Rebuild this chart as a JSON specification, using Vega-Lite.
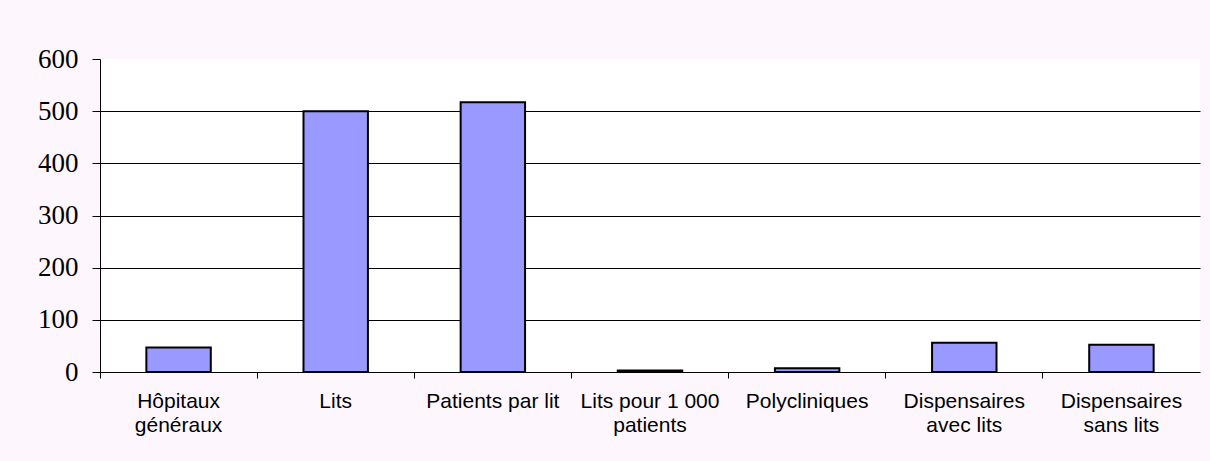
{
  "$schema": "https://vega.github.io/schema/vega-lite/v6.json",
  "width": 1100,
  "height": 313,
  "autosize": {"type": "none"},
  "padding": {"left": 100, "top": 59, "right": 10, "bottom": 89},
  "background": "#FDF7FD",
  "config": {"view": {"stroke": null, "fill": "white"}},
  "data": {
    "values": [
      {"categorie": "Hôpitaux généraux", "valeur": 47},
      {"categorie": "Lits", "valeur": 500},
      {"categorie": "Patients par lit", "valeur": 517},
      {"categorie": "Lits pour 1 000 patients", "valeur": 3},
      {"categorie": "Polycliniques", "valeur": 7},
      {"categorie": "Dispensaires avec lits", "valeur": 56},
      {"categorie": "Dispensaires sans lits", "valeur": 52}
    ]
  },
  "mark": {"type": "bar", "fill": "#9999FF", "stroke": "black", "strokeWidth": 2, "width": {"band": 0.41}},
  "encoding": {
    "x": {
      "field": "categorie",
      "type": "nominal",
      "sort": null,
      "scale": {"paddingInner": 0, "paddingOuter": 0},
      "axis": {
        "title": null,
        "labelAngle": 0,
        "bandPosition": 0,
        "domainColor": "black",
        "tickColor": "black",
        "tickSize": 6,
        "labelFont": "Liberation Sans",
        "labelFontSize": 21,
        "labelColor": "black",
        "labelPadding": 12,
        "labelLineHeight": 24,
        "labelBaseline": "top",
        "labelLimit": 300,
        "labelExpr": "{'Hôpitaux généraux':['Hôpitaux','généraux'],'Lits pour 1 000 patients':['Lits pour 1 000','patients'],'Dispensaires avec lits':['Dispensaires','avec lits'],'Dispensaires sans lits':['Dispensaires','sans lits']}[datum.value] || datum.value"
      }
    },
    "y": {
      "field": "valeur",
      "type": "quantitative",
      "scale": {"domain": [0, 600], "nice": false},
      "axis": {
        "title": null,
        "values": [0, 100, 200, 300, 400, 500, 600],
        "grid": true,
        "gridColor": "black",
        "gridOpacity": {"condition": {"test": "datum.value === 600 || datum.value === 0", "value": 0}, "value": 1},
        "domainColor": "black",
        "tickColor": "black",
        "tickSize": 8,
        "labelFont": "Liberation Serif",
        "labelFontSize": 27,
        "labelColor": "black",
        "labelPadding": 14
      }
    }
  }
}
